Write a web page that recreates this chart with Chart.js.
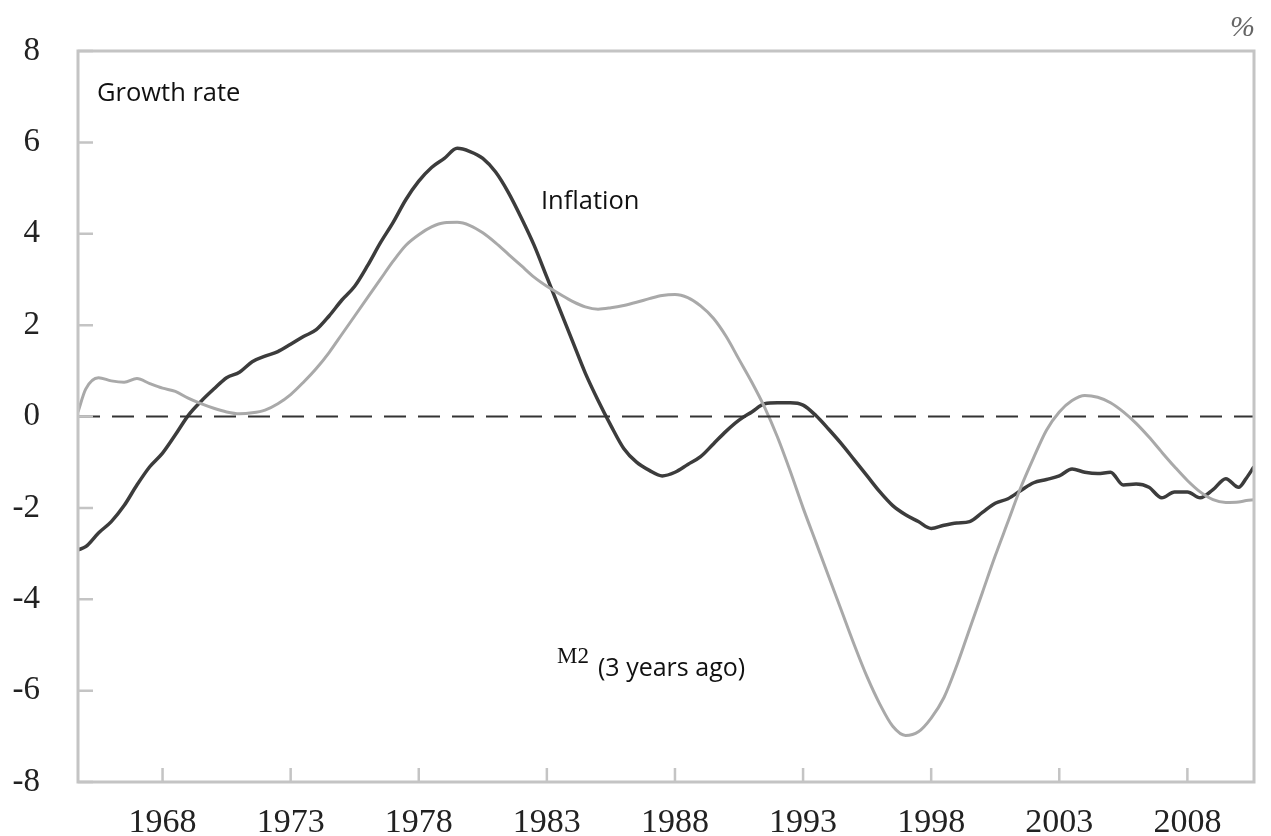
<!DOCTYPE html>
<html>
<head>
<meta charset="utf-8">
<script src="https://cdn.jsdelivr.net/npm/chart.js@4.4.1/dist/chart.umd.min.js"></script>
<style>
  html, body { margin: 0; padding: 0; background: #fff; }
  #wrap { width: 1271px; height: 836px; position: relative; }
</style>
</head>
<body>
<div id="wrap"><canvas id="c" width="1271" height="836"></canvas></div>
<script>
// years (x) shared by both series
const years = [1964.7, 1965.0, 1965.5, 1966.0, 1966.5, 1967.0, 1967.5, 1968.0, 1968.5, 1969.0,
  1969.5, 1970.0, 1970.5, 1971.0, 1971.5, 1972.0, 1972.5, 1973.0, 1973.5, 1974.0,
  1974.5, 1975.0, 1975.5, 1976.0, 1976.5, 1977.0, 1977.5, 1978.0, 1978.5, 1979.0,
  1979.5, 1980.0, 1980.5, 1981.0, 1981.5, 1982.0, 1982.5, 1983.0, 1983.5, 1984.0,
  1984.5, 1985.0, 1985.5, 1986.0, 1986.5, 1987.0, 1987.5, 1988.0, 1988.5, 1989.0,
  1989.5, 1990.0, 1990.5, 1991.0, 1991.5, 1992.0, 1992.5, 1993.0, 1993.5, 1994.0,
  1994.5, 1995.0, 1995.5, 1996.0, 1996.5, 1997.0, 1997.5, 1998.0, 1998.5, 1999.0,
  1999.5, 2000.0, 2000.5, 2001.0, 2001.5, 2002.0, 2002.5, 2003.0, 2003.5, 2004.0,
  2004.5, 2005.0, 2005.5, 2006.0, 2006.5, 2007.0, 2007.5, 2008.0, 2008.5, 2009.0,
  2009.5, 2010.0, 2010.3, 2010.6];

const inflation = [-2.92, -2.85, -2.55, -2.3, -1.95, -1.5, -1.1, -0.8, -0.4, 0.02,
  0.33, 0.6, 0.85, 0.97, 1.2, 1.32, 1.42, 1.58, 1.75, 1.9,
  2.2, 2.55, 2.85, 3.3, 3.8, 4.25, 4.75, 5.15, 5.45, 5.65,
  5.87, 5.8, 5.65, 5.35, 4.9, 4.35, 3.75, 3.05, 2.35, 1.65,
  0.95, 0.35, -0.2, -0.7, -1.0, -1.18, -1.3, -1.22, -1.05, -0.88,
  -0.6, -0.32, -0.08, 0.1, 0.28, 0.3, 0.3, 0.25, 0.02, -0.28,
  -0.6, -0.95, -1.3, -1.65, -1.95, -2.15, -2.3, -2.45, -2.38, -2.33,
  -2.3, -2.1, -1.9, -1.8, -1.62, -1.45, -1.38, -1.3, -1.15, -1.22,
  -1.25, -1.22, -1.5, -1.48, -1.55, -1.78, -1.65, -1.65, -1.78, -1.6,
  -1.36, -1.55, -1.35, -1.1];

const m2 = [0.1, 0.6, 0.85, 0.78, 0.75, 0.83, 0.72, 0.62, 0.55, 0.4,
  0.28, 0.18, 0.1, 0.06, 0.08, 0.14, 0.28, 0.48, 0.75, 1.05,
  1.4, 1.8, 2.2, 2.6, 3.0, 3.4, 3.75, 3.98, 4.15, 4.24,
  4.25, 4.18, 4.02, 3.8, 3.55, 3.3, 3.05, 2.85, 2.68, 2.52,
  2.4, 2.35, 2.38, 2.43, 2.5, 2.58, 2.65, 2.67, 2.6, 2.42,
  2.15, 1.75, 1.25, 0.75, 0.2, -0.45, -1.2, -2.0, -2.75, -3.5,
  -4.25, -5.0, -5.7, -6.3, -6.78, -6.98, -6.9, -6.6, -6.15, -5.45,
  -4.65, -3.85, -3.05, -2.3, -1.55, -0.9, -0.3, 0.1, 0.35, 0.46,
  0.42, 0.3, 0.1, -0.15, -0.45, -0.78, -1.1, -1.4, -1.65, -1.82,
  -1.88, -1.87, -1.84, -1.82];

const xTicks = [1968, 1973, 1978, 1983, 1988, 1993, 1998, 2003, 2008];
const yTicks = [-8, -6, -4, -2, 0, 2, 4, 6, 8];
const xMin = 1964.7, xMax = 2010.6;

const AXIS = '#c4c4c4';

const frame = {
  id: 'frame',
  afterDraw(chart) {
    const ctx = chart.ctx, a = chart.chartArea;
    const xs = chart.scales.x, ys = chart.scales.y;
    ctx.save();
    ctx.strokeStyle = AXIS;
    ctx.lineWidth = 3;
    ctx.beginPath();
    ctx.rect(a.left, a.top, a.right - a.left, a.bottom - a.top);
    ctx.stroke();
    ctx.lineWidth = 2.5;
    ctx.beginPath();
    yTicks.forEach(v => {
      const py = ys.getPixelForValue(v);
      ctx.moveTo(a.left, py); ctx.lineTo(a.left + 15, py);
    });
    xTicks.forEach(v => {
      const px = xs.getPixelForValue(v);
      ctx.moveTo(px, a.bottom); ctx.lineTo(px, a.bottom - 14);
    });
    ctx.stroke();

    ctx.fillStyle = '#111';
    ctx.textBaseline = 'alphabetic';
    ctx.font = '25.5px "Open Sans"';
    ctx.fillText('Growth rate', a.left + 19, 101);
    ctx.fillText('Inflation', 541, 209);
    ctx.font = '25px "Open Sans"';
    ctx.fillText('(3 years ago)', 598, 676);
    ctx.font = '23px "Liberation Serif"';
    ctx.fillText('M2', 557, 663);
    ctx.fillStyle = '#666';
    ctx.font = 'italic 30px "Liberation Serif"';
    ctx.fillText('%', 1230, 36);
    ctx.restore();
  }
};

new Chart(document.getElementById('c'), {
  type: 'line',
  data: {
    datasets: [
      {
        label: 'zero',
        data: [{ x: xMin, y: 0 }, { x: xMax, y: 0 }],
        borderColor: '#333',
        borderWidth: 2,
        borderDash: [22, 12],
        pointRadius: 0
      },
      {
        label: 'M2 (3 years ago)',
        data: years.map((x, i) => ({ x, y: m2[i] })),
        borderColor: '#a9a9a9',
        borderWidth: 3,
        pointRadius: 0,
        cubicInterpolationMode: 'monotone'
      },
      {
        label: 'Inflation',
        data: years.map((x, i) => ({ x, y: inflation[i] })),
        borderColor: '#3c3c3c',
        borderWidth: 3.5,
        pointRadius: 0,
        cubicInterpolationMode: 'monotone'
      }
    ]
  },
  options: {
    responsive: false,
    animation: false,
    layout: { padding: { top: 51, right: 17, left: 0, bottom: 0 } },
    plugins: { legend: { display: false }, tooltip: { enabled: false } },
    scales: {
      x: {
        type: 'linear',
        min: xMin,
        max: xMax,
        afterBuildTicks: s => { s.ticks = xTicks.map(v => ({ value: v })); },
        afterFit: s => { s.height = 54; },
        grid: { display: false },
        border: { display: false },
        ticks: {
          callback: v => String(v),
          color: '#222',
          padding: 13,
          maxRotation: 0,
          autoSkip: false,
          font: { family: 'Liberation Serif', size: 34 }
        }
      },
      y: {
        min: -8,
        max: 8,
        afterBuildTicks: s => { s.ticks = yTicks.map(v => ({ value: v })); },
        afterFit: s => { s.width = 78; },
        grid: { display: false },
        border: { display: false },
        ticks: {
          callback: v => String(v),
          color: '#222',
          padding: 30,
          font: { family: 'Liberation Serif', size: 33 }
        }
      }
    }
  },
  plugins: [frame]
});
</script>
</body>
</html>
